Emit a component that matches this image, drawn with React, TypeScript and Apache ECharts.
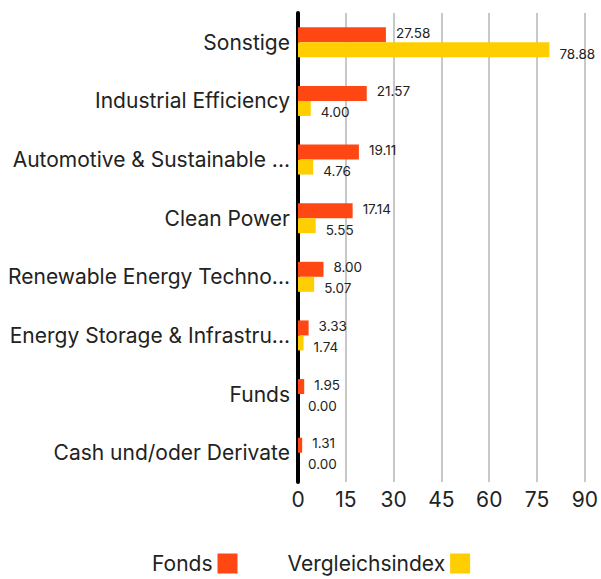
import React, { useEffect, useRef } from "react";
import * as echarts from "echarts";

const categories = [
  "Sonstige",
  "Industrial Efficiency",
  "Automotive & Sustainable ...",
  "Clean Power",
  "Renewable Energy Techno...",
  "Energy Storage & Infrastru...",
  "Funds",
  "Cash und/oder Derivate",
];
const fondsValues = [27.58, 21.57, 19.11, 17.14, 8.0, 3.33, 1.95, 1.31];
const indexValues = [78.88, 4.0, 4.76, 5.55, 5.07, 1.74, 0.0, 0.0];
const seriesNames = ["Fonds", "Vergleichsindex"];

const FONT = "Inter, 'Noto Sans', sans-serif";

export default function App() {
  const ref = useRef<HTMLDivElement>(null);
  useEffect(() => {
    if (!ref.current) return;
    const chart = echarts.init(ref.current, undefined, { renderer: "svg" });
    chart.setOption({
      animation: false,
      textStyle: { fontFamily: FONT },
      grid: { left: 298, right: 12, top: 13, bottom: 97, containLabel: false },
      legend: {
        bottom: 0,
        left: 147,
        align: "right",
        itemWidth: 20,
        itemHeight: 20,
        itemGap: 50,
        icon: "rect",
        textStyle: { fontSize: 21, color: "#222", fontFamily: FONT },
        data: seriesNames,
      },
      xAxis: {
        type: "value",
        min: 0,
        max: 90,
        interval: 15,
        axisLine: { show: false },
        axisTick: { show: false },
        axisLabel: { fontSize: 21, color: "#222", margin: 7, fontFamily: FONT },
        splitLine: { lineStyle: { color: "#c8c8c8", width: 2 } },
      },
      yAxis: {
        type: "category",
        inverse: true,
        data: categories,
        axisLine: { show: true, lineStyle: { color: "#000", width: 4 } },
        axisTick: { show: false },
        axisLabel: {
          fontSize: 21,
          color: "#222",
          margin: 8,
          padding: [4, 0, 0, 0],
          fontFamily: FONT,
        },
      },
      series: [
        {
          name: seriesNames[0],
          type: "bar",
          data: fondsValues,
          barWidth: 15,
          barGap: "0%",
          itemStyle: { color: "#FF4713" },
          label: {
            show: true,
            position: "right",
            distance: 10,
            offset: [0, -2],
            fontSize: 13.5,
            color: "#222",
            fontFamily: FONT,
            formatter: (p: any) => Number(p.value).toFixed(2),
          },
        },
        {
          name: seriesNames[1],
          type: "bar",
          data: indexValues,
          barWidth: 15,
          barGap: "0%",
          itemStyle: { color: "#FFCE00" },
          label: {
            show: true,
            position: "right",
            distance: 10,
            offset: [0, 4],
            fontSize: 13.5,
            color: "#222",
            fontFamily: FONT,
            formatter: (p: any) => Number(p.value).toFixed(2),
          },
        },
      ],
    });
    return () => chart.dispose();
  }, []);
  return (
    <div
      ref={ref}
      style={{ position: "absolute", left: 0, top: 0, width: 601, height: 579 }}
    />
  );
}
